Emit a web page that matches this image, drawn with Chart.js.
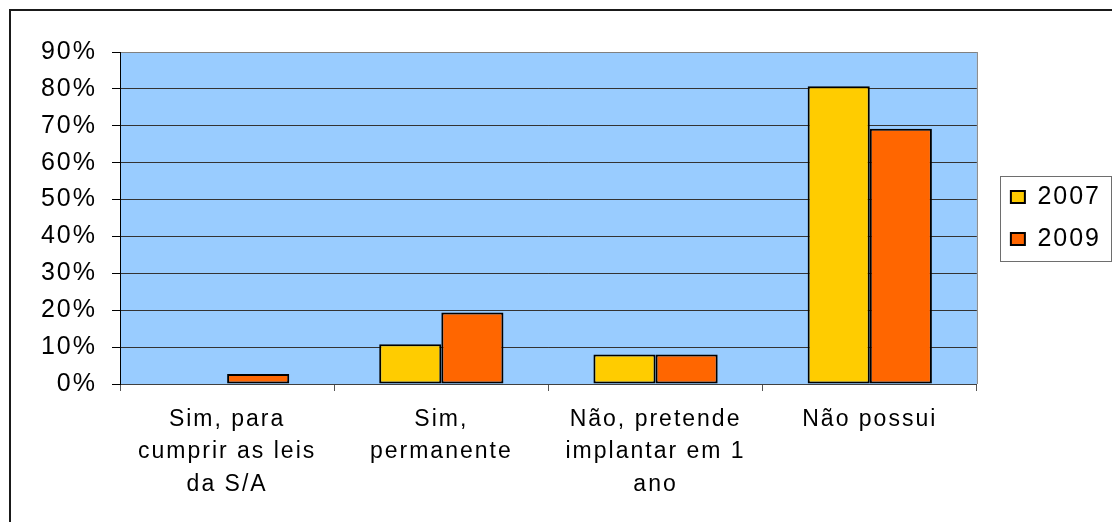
<!DOCTYPE html>
<html>
<head>
<meta charset="utf-8">
<script src="https://cdn.jsdelivr.net/npm/chart.js@4/dist/chart.umd.min.js"></script>
<style>
  html, body { margin: 0; padding: 0; background: #fff; }
  #wrap { width: 1112px; height: 522px; position: relative; }
</style>
</head>
<body>
<div id="wrap"><canvas id="chart"></canvas></div>
<script>
"use strict";

const CATEGORIES = [
  ["Sim, para", "cumprir as leis", "da S/A"],
  ["Sim,", "permanente"],
  ["Não, pretende", "implantar em 1", "ano"],
  "Não possui",
];
const SERIES_2007 = [0, 10.8, 8.0, 80.7];
const SERIES_2009 = [2.7, 19.4, 8.0, 69.2];
const Y_MAX = 90;
const Y_STEP = 10;

const FONT = "'Liberation Sans', Arial, sans-serif";

// Spread letters a little, like the original export; canvas resets lose it, so set it often.
const spacing = {
  id: "spacing",
  beforeLayout: (chart) => { chart.ctx.letterSpacing = "2px"; },
  beforeDraw: (chart) => { chart.ctx.letterSpacing = "2px"; },
};

// Blue plot background, grey right edge, outer frame and the boxed legend.
const frame = {
  id: "frame",
  beforeDraw(chart) {
    const { ctx, chartArea: a } = chart;
    ctx.save();
    ctx.fillStyle = "#99ccff";
    ctx.fillRect(a.left, a.top, a.right - a.left, a.bottom - a.top);
    ctx.restore();
  },
  afterDraw(chart) {
    const { ctx, chartArea: a } = chart;
    ctx.save();
    ctx.strokeStyle = "#808080";
    ctx.lineWidth = 1;
    ctx.beginPath();
    ctx.moveTo(a.right + 0.5, a.top);
    ctx.lineTo(a.right + 0.5, a.bottom);
    ctx.stroke();

    ctx.strokeStyle = "#1a1a1a";
    ctx.lineWidth = 2;
    ctx.beginPath();
    ctx.moveTo(10, chart.height);
    ctx.lineTo(10, 10);
    ctx.lineTo(chart.width, 10);
    ctx.stroke();

    const hits = chart.legend?.legendHitBoxes || [];
    if (hits.length) {
      const left = Math.min(...hits.map((h) => h.left)) - 11;
      const top = Math.min(...hits.map((h) => h.top)) - 9;
      const bottom = Math.max(...hits.map((h) => h.top + h.height)) + 9;
      const right = chart.width - 1.5;
      ctx.strokeStyle = "#6e6e6e";
      ctx.lineWidth = 1;
      ctx.strokeRect(Math.round(left) + 0.5, Math.round(top) + 0.5, Math.round(right - left), Math.round(bottom - top));
    }
    ctx.restore();
  },
};

const bar = (label, data, color) => ({
  label, data,
  backgroundColor: color,
  borderColor: "#000",
  borderWidth: 2,
  borderSkipped: false,
  categoryPercentage: 0.58,
  barPercentage: 1,
});

new Chart(document.getElementById("chart"), {
  type: "bar",
  data: {
    labels: CATEGORIES,
    datasets: [bar("2007", SERIES_2007, "#ffcc00"), bar("2009", SERIES_2009, "#ff6600")],
  },
  options: {
    responsive: true,
    maintainAspectRatio: false,
    animation: false,
    devicePixelRatio: 1,
    layout: { padding: { top: 52, left: 0, right: 1, bottom: 0 } },
    plugins: {
      tooltip: { enabled: false },
      legend: {
        position: "right",
        fullSize: false,
        labels: {
          color: "#000",
          font: { family: FONT, size: 25 },
          boxWidth: 14,
          boxHeight: 12,
          padding: 17,
        },
      },
    },
    scales: {
      x: {
        grid: { display: true, drawOnChartArea: false, offset: true, tickLength: 7, color: "#555" },
        border: { display: true, color: "#404040", width: 1 },
        ticks: { color: "#000", font: { family: FONT, size: 23, lineHeight: 1.42 }, padding: 12, maxRotation: 0, autoSkip: false },
        afterFit: (s) => { s.height = 138; },
      },
      y: {
        min: 0,
        max: Y_MAX,
        grid: {
          color: (c) => (c.tick && c.tick.value === Y_MAX ? "#808080" : "#333"),
          tickColor: "#000",
          tickLength: 8,
          lineWidth: 1,
        },
        border: { display: true, color: "#000", width: 1 },
        ticks: { stepSize: Y_STEP, color: "#000", font: { family: FONT, size: 25 }, padding: 15, callback: (v) => v + "%" },
        afterFit: (s) => { s.width = 120; },
      },
      gap: {
        position: "right",
        display: true,
        grid: { display: false },
        border: { display: false },
        ticks: { display: false },
        afterFit: (s) => { s.width = 17; },
      },
    },
  },
  plugins: [spacing, frame],
});
</script>
</body>
</html>
